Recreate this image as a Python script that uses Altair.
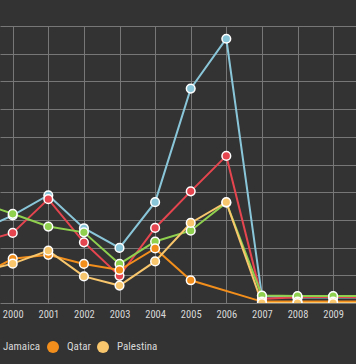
import altair as alt
import pandas as pd

years = [1999, 2000, 2001, 2002, 2003, 2004, 2005, 2006, 2007, 2008, 2009, 2010]
series_names = ["Cuba", "Haiti", "Jamaica", "Qatar", "Palestina"]
colors = ["#8ac6d9", "#e5454f", "#8fd14f", "#f28f1c", "#f8c66c"]

cuba = [2.58, 3.16, 3.89, 2.70, 1.99, 3.64, 7.74, 9.54, 0.25, 0.20, 0.20, 0.20]
haiti = [2.17, 2.53, 3.75, 2.19, 0.98, 2.71, 4.03, 5.31, 0.15, 0.21, 0.23, 0.20]
jamaica = [3.65, 3.22, 2.76, 2.55, 1.41, 2.22, 2.61, 3.62, 0.27, 0.25, 0.25, 0.25]
qatar = [0.91, 1.60, 1.74, 1.41, 1.19, 1.97, 0.82, None, 0.05, 0.05, 0.05, 0.05]
palestina = [1.10, 1.42, 1.89, 0.96, 0.63, 1.50, 2.89, 3.64, 0.0, 0.0, 0.0, 0.0]

rows = []
for name, vals in zip(series_names, [cuba, haiti, jamaica, qatar, palestina]):
    for y, v in zip(years, vals):
        if v is not None:
            rows.append({"year": y, "value": v, "country": name, "order": series_names.index(name)})
df = pd.DataFrame(rows)

FONT = "'Liberation Sans Narrow', 'Roboto Condensed', 'DejaVu Sans Condensed', Roboto, sans-serif"
GRID = "#777777"

x = alt.X(
    "year:Q",
    scale=alt.Scale(domain=[1999.643, 2009.643], nice=False, zero=False),
    axis=alt.Axis(
        values=years, format="d", title=None, grid=True, gridColor=GRID,
        gridWidth=1, ticks=False, domain=False, labelColor="#d8d8d8",
        labelFontSize=10.5, labelFont=FONT, labelPadding=6, labelFlush=False,
        labelOverlap=False,
    ),
)
y = alt.Y(
    "value:Q",
    scale=alt.Scale(domain=[0, 10], nice=False),
    axis=alt.Axis(
        values=list(range(0, 11)), title=None, grid=True, gridColor=GRID,
        gridWidth=1, labels=False, ticks=False, domain=False,
    ),
)
color_scale = alt.Scale(domain=series_names, range=colors)

legend = alt.Legend(
    title=None, orient="none", direction="horizontal",
    legendX=-113, legendY=315, symbolType="circle", symbolSize=144,
    symbolStrokeWidth=0, symbolOpacity=1,
    labelColor="#d8d8d8", labelFontSize=11, labelFont=FONT,
    labelOffset=8, columnPadding=6, padding=0,
)

lines = alt.Chart(df).mark_line(strokeWidth=2, clip=True).encode(
    x=x, y=y,
    color=alt.Color("country:N", scale=color_scale, legend=legend),
    detail="country:N",
    order="year:Q",
)

points = alt.Chart(df).mark_point(
    filled=True, size=75, stroke="white", strokeWidth=1.5, opacity=1, clip=True
).encode(
    x=x, y=y,
    color=alt.Color("country:N", scale=color_scale, legend=legend),
    order="order:Q",
)

chart = alt.layer(lines, points).properties(
    width=356, height=277, background="#333333",
    autosize=alt.AutoSizeParams(type="none"),
    padding={"left": 0, "top": 26, "right": 0, "bottom": 61},
).configure_view(stroke=None)

chart.save("out.html", embed_options={"renderer": "svg", "actions": False})
